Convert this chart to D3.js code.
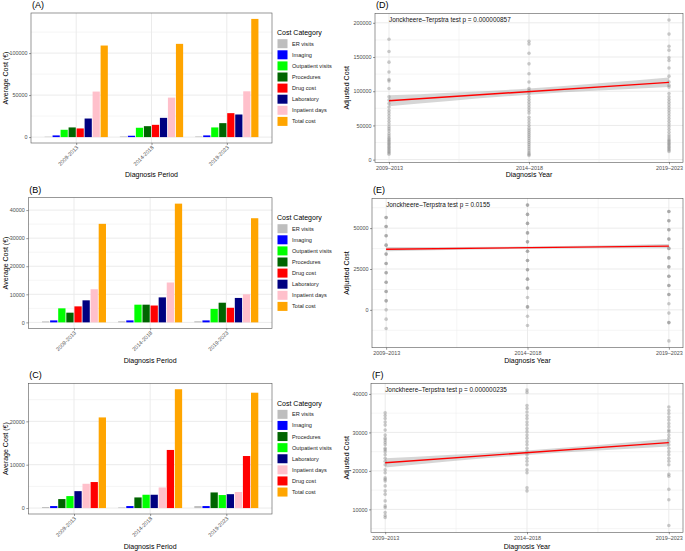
<!DOCTYPE html>
<html>
<head>
<meta charset="utf-8">
<script src="https://cdn.jsdelivr.net/npm/d3@7"></script>
<style>
  body { margin: 0; background: #fff; }
  text { font-family: "Liberation Sans", Arial, sans-serif; }
</style>
</head>
<body>
<div id="chart"></div>
<script>
// ---- data ----
const periods = ["2009-2013", "2014-2018", "2019-2023"];
const periodsYear = ["2009–2013", "2014–2018", "2019–2023"];

const catsAB = ["ER visits", "Imaging", "Outpatient visits", "Procedures", "Drug cost", "Laboratory", "Inpatient days", "Total cost"];
const catsC = ["ER visits", "Imaging", "Procedures", "Outpatient visits", "Laboratory", "Inpatient days", "Drug cost", "Total cost"];

const catColors = {
  "ER visits": "#bebebe",
  "Imaging": "#0000ff",
  "Outpatient visits": "#00ff00",
  "Procedures": "#006400",
  "Drug cost": "#ff0000",
  "Laboratory": "#000080",
  "Inpatient days": "#ffc0cb",
  "Total cost": "#ffa500"
};

// one row per category, one value per period
const costA = [
  [500, 800, 800],
  [2000, 1600, 2000],
  [8700, 11100, 11500],
  [11500, 13000, 16600],
  [10300, 14600, 28500],
  [22100, 22900, 26900],
  [54200, 47000, 54500],
  [109000, 111000, 140700]
];
const costB = [
  [350, 400, 400],
  [700, 700, 700],
  [5000, 6300, 4800],
  [3450, 6300, 7000],
  [5700, 6000, 5200],
  [7850, 8900, 8700],
  [11800, 14200, 10000],
  [35100, 42300, 37100]
];
// panel C uses catsC order
const costC = [
  [230, 150, 460],
  [460, 460, 460],
  [2070, 2450, 3600],
  [2760, 3070, 3000],
  [3900, 3070, 3200],
  [5600, 4750, 3700],
  [6000, 13400, 12000],
  [20900, 27400, 26600]
];

const ticksA = [0, 50000, 100000];
const ticksB = [0, 10000, 20000, 30000, 40000];
const ticksC = [0, 10000, 20000];
const ticksD = [0, 50000, 100000, 150000, 200000];
const ticksE = [0, 25000, 50000];
const ticksF = [10000, 20000, 30000, 40000];

// adjusted cost per patient, one list per period (repeated values = overlapping points)
const ptsD = [
  [176000, 158000, 142500, 128000, 117000, 115000, 104000, 92000, 87000, 82000, 77000, 72000, 68000, 64000, 60000, 56000, 52000, 48000, 45000, 42000, 38000, 35000, 32000, 30000, 28000, 26000, 24000, 22000, 20000, 18000, 16000, 14000, 12000, 10000, 8000],
  [173000, 169000, 155500, 140000, 125500, 113500, 104000, 101000, 96500, 92000, 88000, 84000, 80000, 76000, 72000, 68000, 62000, 58000, 54000, 50000, 46000, 43000, 40000, 37000, 34000, 31000, 28000, 25000, 22000, 19000, 16000, 13000, 10000, 8000, 6000],
  [204000, 183500, 165700, 160000, 149000, 145000, 134000, 122000, 113500, 108700, 106000, 96600, 92000, 88000, 84000, 80000, 76000, 72000, 68000, 64000, 60000, 56000, 52000, 48000, 44000, 40000, 36000, 33000, 30000, 28000, 26000, 24000, 22000, 20000, 18000, 16000, 14000, 12000]
];
const ptsE = [
  [56500, 56500, 51000, 51000, 45300, 45300, 39600, 39600, 34100, 34100, 28400, 28400, 22700, 22700, 16900, 16900, 11200, 11200, 5500, 5500, 0, -5700, -11400],
  [64100, 64100, 58400, 58400, 52900, 52900, 47100, 47100, 41600, 41600, 35900, 35900, 30200, 30200, 24500, 24500, 18800, 18800, 13300, 13300, 7600, 1800, 1800, -3900, -9600],
  [60200, 60200, 54500, 54500, 49000, 49000, 43300, 43300, 37600, 37600, 31800, 31800, 26300, 26300, 20600, 20600, 14900, 14900, 9400, 9400, 3700, -2000, -7800, -7800, -19000]
];
const ptsF = [
  [35100, 34400, 33600, 32700, 31900, 30600, 29300, 28500, 28000, 27400, 26800, 25900, 25500, 25000, 24200, 23300, 22500, 21600, 20300, 19500, 18200, 17800, 17400, 16100, 14800, 13900, 12200, 10900, 10500, 9200, 8400, 7900],
  [41000, 40400, 37000, 36200, 35300, 34400, 33600, 32700, 31900, 31000, 30200, 29300, 28500, 27600, 26800, 25900, 25000, 24200, 23300, 22500, 21600, 20300, 19500, 15600, 14800],
  [36600, 35700, 34900, 34000, 33200, 32300, 31500, 30600, 30200, 29300, 28500, 27600, 26800, 25900, 25000, 24200, 23300, 22500, 21600, 19100, 18600, 15200, 12500, 5800]
];

// linear fit at first / last period, and 95% CI half width at each period
const fitD = [86000, 113000];
const ciD = [8000, 4500, 7000];
const fitE = [37100, 39000];
const ciE = [1300, 700, 1300];
const fitF = [22100, 27350];
const ciF = [1200, 600, 1000];

const pLabelD = "Jonckheere–Terpstra test p = 0.000000857";
const pLabelE = "Jonckheere–Terpstra test p = 0.0155";
const pLabelF = "Jonckheere–Terpstra test p = 0.000000235";

// ---- drawing ----
const W = 685, H = 551;
const svg = d3.select("#chart").append("svg")
  .attr("width", W).attr("height", H);

const gridCol = "#ebebeb";
const tickFont = 5.4;

function minorOf(ticks, domain) {
  const step = ticks[1] - ticks[0];
  const out = [];
  for (let v = ticks[0] - step / 2; v <= domain[1]; v += step)
    if (v >= domain[0]) out.push(v);
  return out;
}

function panelTitle(txt, x, y) {
  svg.append("text").attr("x", x).attr("y", y)
    .attr("font-size", 9).text(txt);
}

function yAxis(y, ticks, l) {
  const ax = svg.append("g")
    .attr("transform", `translate(${l},0)`)
    .call(d3.axisLeft(y).tickValues(ticks).tickSize(2).tickPadding(1.5).tickFormat(d3.format("d")));
  ax.select(".domain").remove();
  ax.selectAll("line").attr("stroke", "#333").attr("stroke-width", 0.5);
  ax.selectAll("text").attr("font-size", tickFont).attr("fill", "#4d4d4d");
}

function barPanel(cfg) {
  const { l, r, t, b } = cfg.box;
  const max = d3.max(cfg.values.flat());
  const y = d3.scaleLinear().domain([-0.05 * max, 1.05 * max]).range([b, t]);
  const x = d3.scalePoint().domain(periods).range([l, r]).padding(0.6);
  const step = x.step();
  const xb = d3.scaleBand().domain(cfg.cats).range([-0.42 * step, 0.42 * step]).paddingInner(0.1);

  panelTitle(cfg.label, l + 1, t - 5);

  const g = svg.append("g");
  // grid
  g.selectAll(".minor").data(minorOf(cfg.ticks, y.domain())).join("line")
    .attr("x1", l).attr("x2", r).attr("y1", d => y(d)).attr("y2", d => y(d))
    .attr("stroke", gridCol).attr("stroke-width", 0.5);
  g.selectAll(".major").data(cfg.ticks).join("line")
    .attr("x1", l).attr("x2", r).attr("y1", d => y(d)).attr("y2", d => y(d))
    .attr("stroke", gridCol).attr("stroke-width", 1);
  g.selectAll(".vmajor").data(periods).join("line")
    .attr("y1", t).attr("y2", b).attr("x1", d => x(d)).attr("x2", d => x(d))
    .attr("stroke", gridCol).attr("stroke-width", 1);

  // bars
  const rows = [];
  cfg.cats.forEach((c, i) => periods.forEach((p, j) => rows.push({ cat: c, period: p, v: cfg.values[i][j] })));
  g.selectAll("rect").data(rows).join("rect")
    .attr("x", d => x(d.period) + xb(d.cat))
    .attr("width", xb.bandwidth())
    .attr("y", d => y(d.v))
    .attr("height", d => y(0) - y(d.v))
    .attr("fill", d => catColors[d.cat]);

  svg.append("rect").attr("x", l).attr("y", t).attr("width", r - l).attr("height", b - t)
    .attr("fill", "none").attr("stroke", "#555").attr("stroke-width", 0.6);

  yAxis(y, cfg.ticks, l);

  const ax = svg.append("g").attr("transform", `translate(0,${b})`)
    .call(d3.axisBottom(x).tickSize(2));
  ax.select(".domain").remove();
  ax.selectAll("line").attr("stroke", "#333").attr("stroke-width", 0.5);
  ax.selectAll("text")
    .attr("font-size", tickFont).attr("fill", "#4d4d4d")
    .attr("x", 0).attr("y", 0).attr("dy", 0)
    .attr("text-anchor", "end")
    .attr("transform", "translate(2,5) rotate(-45)");

  svg.append("text").attr("x", (l + r) / 2).attr("y", cfg.xTitleY)
    .attr("text-anchor", "middle").attr("font-size", 7).text("Diagnosis Period");
  svg.append("text").attr("transform", `translate(7.5,${(t + b) / 2}) rotate(-90)`)
    .attr("text-anchor", "middle").attr("font-size", 7).text("Average Cost (€)");

  // legend
  const pc = (t + b) / 2;
  const lg = svg.append("g").attr("transform", `translate(277,${pc})`);
  lg.append("text").attr("x", 0).attr("y", -43).attr("font-size", 7).text("Cost Category");
  const items = lg.selectAll(".item").data(cfg.cats).join("g")
    .attr("transform", (d, i) => `translate(0,${-34.3 + i * 11.1})`);
  items.append("rect").attr("x", 0.5).attr("y", -4.5).attr("width", 10).attr("height", 9)
    .attr("fill", d => catColors[d]);
  items.append("text").attr("x", 15).attr("y", 0).attr("dy", "0.35em")
    .attr("font-size", 5.6).attr("fill", "#222").text(d => d);
}

function scatterPanel(cfg) {
  const { l, r, t, b } = cfg.box;
  const all = cfg.pts.flat();
  const [mn, mx] = d3.extent(all);
  const pad = (mx - mn) * 0.05;
  const y = d3.scaleLinear().domain([mn - pad, mx + pad]).range([b, t]);
  const x = d3.scaleLinear().domain([0.9, 3.1]).range([l, r]);

  panelTitle(cfg.label, l + 1, t - 5);

  const g = svg.append("g");
  g.selectAll(".minor").data(minorOf(cfg.ticks, y.domain())).join("line")
    .attr("x1", l).attr("x2", r).attr("y1", d => y(d)).attr("y2", d => y(d))
    .attr("stroke", gridCol).attr("stroke-width", 0.5);
  g.selectAll(".vminor").data([1.5, 2.5]).join("line")
    .attr("y1", t).attr("y2", b).attr("x1", d => x(d)).attr("x2", d => x(d))
    .attr("stroke", gridCol).attr("stroke-width", 0.5);
  g.selectAll(".major").data(cfg.ticks).join("line")
    .attr("x1", l).attr("x2", r).attr("y1", d => y(d)).attr("y2", d => y(d))
    .attr("stroke", gridCol).attr("stroke-width", 1);
  g.selectAll(".vmajor").data([1, 2, 3]).join("line")
    .attr("y1", t).attr("y2", b).attr("x1", d => x(d)).attr("x2", d => x(d))
    .attr("stroke", gridCol).attr("stroke-width", 1);

  // points
  const pts = [];
  cfg.pts.forEach((col, i) => col.forEach(v => pts.push({ x: i + 1, v })));
  g.selectAll("circle").data(pts).join("circle")
    .attr("cx", d => x(d.x)).attr("cy", d => y(d.v)).attr("r", 1.8)
    .attr("fill", "#7f7f7f").attr("fill-opacity", 0.4);

  // fit band and line
  const fitAt = k => cfg.fit[0] + (cfg.fit[1] - cfg.fit[0]) * (k - 1) / 2;
  const band = [1, 2, 3].map((k, i) => ({ k, lo: fitAt(k) - cfg.ci[i], hi: fitAt(k) + cfg.ci[i] }));
  g.append("path").datum(band)
    .attr("d", d3.area().x(d => x(d.k)).y0(d => y(d.lo)).y1(d => y(d.hi)).curve(d3.curveNatural))
    .attr("fill", "#999").attr("fill-opacity", 0.4);
  g.append("path").datum([1, 3])
    .attr("d", d3.line().x(d => x(d)).y(d => y(fitAt(d))))
    .attr("stroke", "#ff0000").attr("stroke-width", 1.4).attr("fill", "none");

  g.append("text").attr("x", x(1)).attr("y", y(mx)).attr("dy", "0.35em")
    .attr("font-size", 6.4).attr("fill", "#111").text(cfg.pLabel);

  svg.append("rect").attr("x", l).attr("y", t).attr("width", r - l).attr("height", b - t)
    .attr("fill", "none").attr("stroke", "#555").attr("stroke-width", 0.6);

  yAxis(y, cfg.ticks, l);

  const ax = svg.append("g").attr("transform", `translate(0,${b})`)
    .call(d3.axisBottom(x).tickValues([1, 2, 3]).tickSize(2).tickPadding(1.5)
      .tickFormat((d, i) => periodsYear[i]));
  ax.select(".domain").remove();
  ax.selectAll("line").attr("stroke", "#333").attr("stroke-width", 0.5);
  ax.selectAll("text").attr("font-size", tickFont).attr("fill", "#4d4d4d");

  svg.append("text").attr("x", (l + r) / 2).attr("y", cfg.xTitleY)
    .attr("text-anchor", "middle").attr("font-size", 7).text("Diagnosis Year");
  svg.append("text").attr("transform", `translate(348.5,${(t + b) / 2}) rotate(-90)`)
    .attr("text-anchor", "middle").attr("font-size", 7).text("Adjusted Cost");
}

barPanel({ label: "(A)", box: { l: 31, r: 272, t: 13, b: 143 }, cats: catsAB, values: costA, ticks: ticksA, xTitleY: 177 });
barPanel({ label: "(B)", box: { l: 28.3, r: 272, t: 197.7, b: 328.3 }, cats: catsAB, values: costB, ticks: ticksB, xTitleY: 362.5 });
barPanel({ label: "(C)", box: { l: 28.3, r: 272, t: 383.3, b: 514 }, cats: catsC, values: costC, ticks: ticksC, xTitleY: 549 });

scatterPanel({ label: "(D)", box: { l: 375, r: 683, t: 13.3, b: 162.3 }, pts: ptsD, fit: fitD, ci: ciD, ticks: ticksD, pLabel: pLabelD, xTitleY: 176.5 });
scatterPanel({ label: "(E)", box: { l: 372, r: 683, t: 198.3, b: 347.7 }, pts: ptsE, fit: fitE, ci: ciE, ticks: ticksE, pLabel: pLabelE, xTitleY: 362.5 });
scatterPanel({ label: "(F)", box: { l: 371, r: 683, t: 383.3, b: 532.3 }, pts: ptsF, fit: fitF, ci: ciF, ticks: ticksF, pLabel: pLabelF, xTitleY: 549 });
</script>
</body>
</html>
